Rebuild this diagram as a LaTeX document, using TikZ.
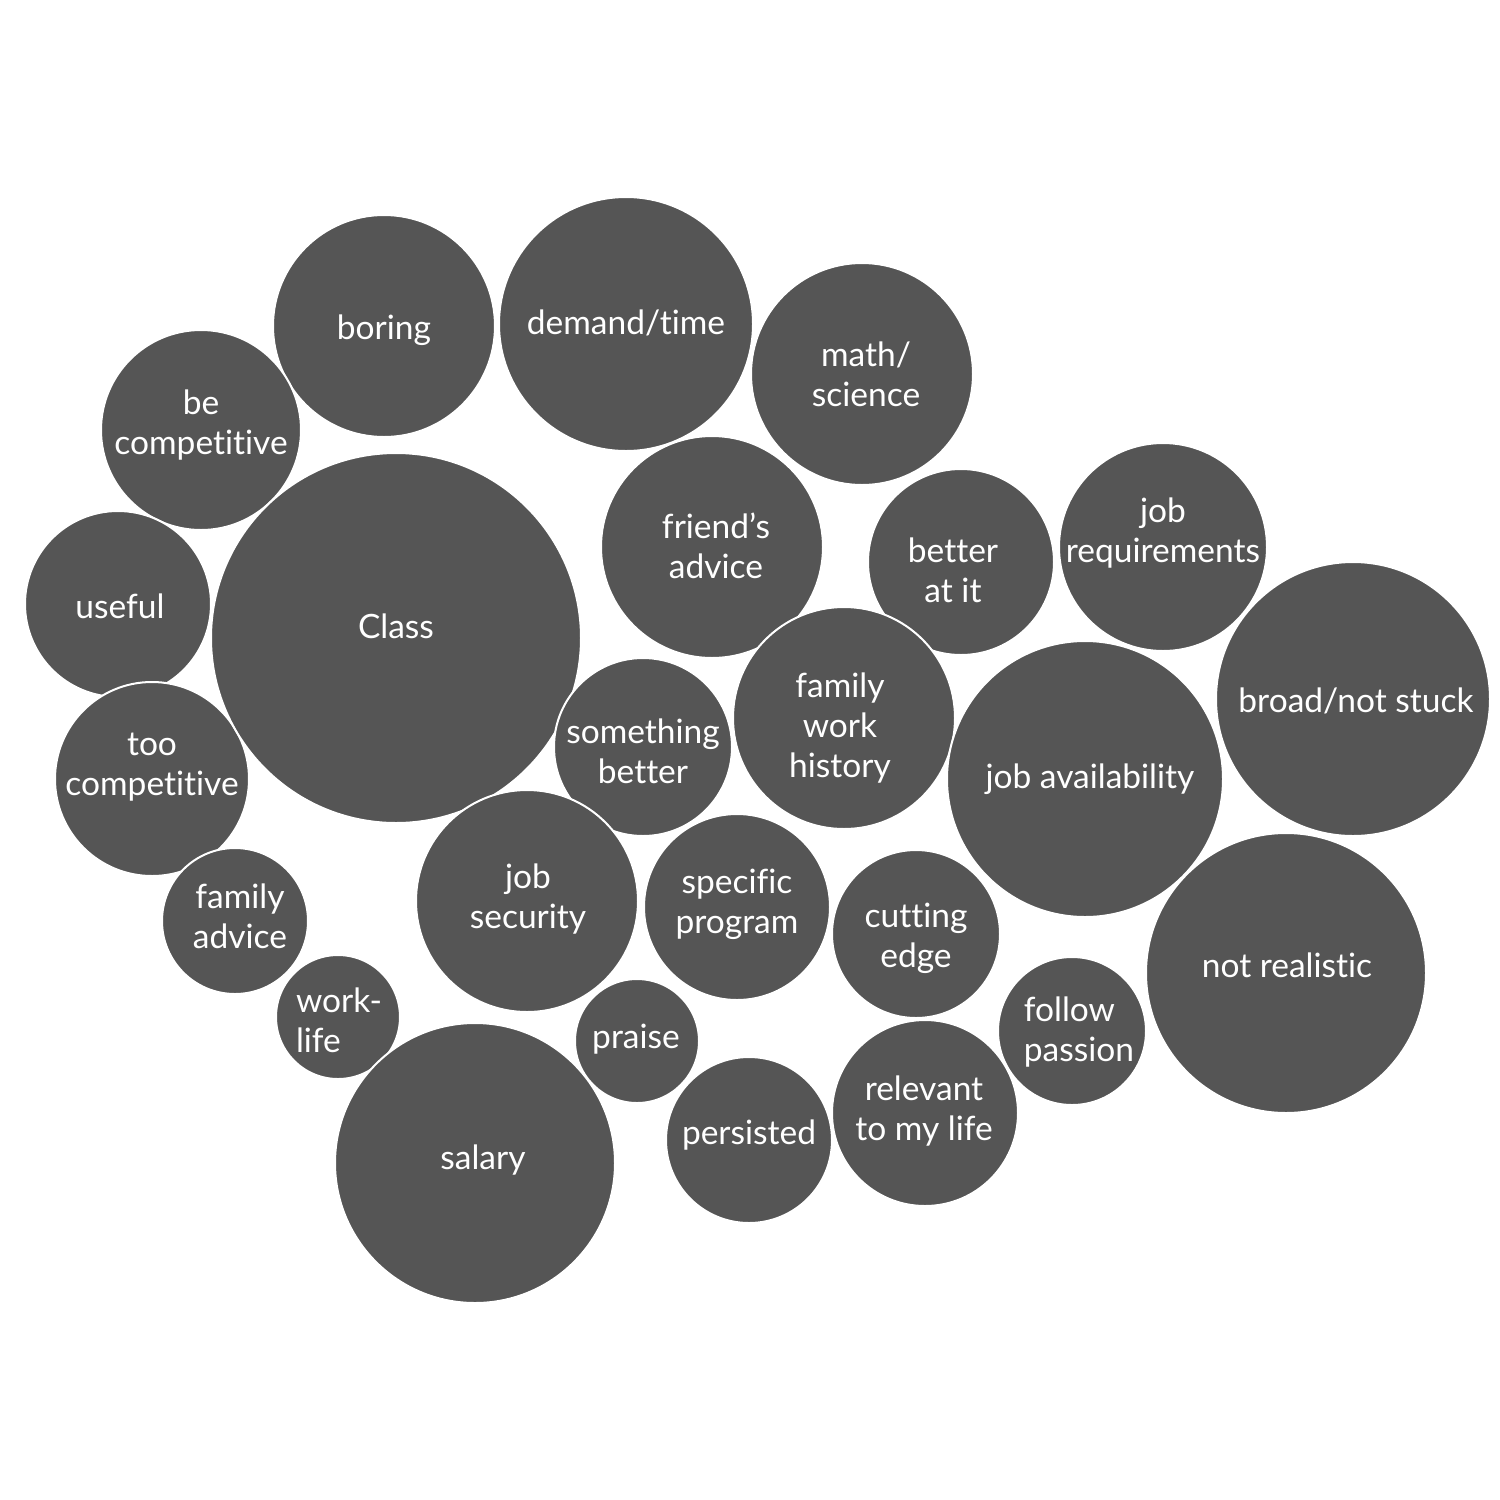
\documentclass[tikz,border=0pt]{standalone}
\usepackage{fontspec}
\setmainfont{Lato}[Ligatures={NoCommon}]
\definecolor{bub}{HTML}{555555}
\begin{document}
\begin{tikzpicture}[x=1pt,y=-1pt,
  bubble/.style={circle,fill=bub,draw=white,line width=2pt,inner sep=0pt,minimum size=#1},
  lbl/.style={text=white,align=center,font=\fontsize{33.5}{40}\selectfont,inner sep=0pt}]
\useasboundingbox (0,0) rectangle (1500,1500);
\fill[white] (0,0) rectangle (1500,1500);
% circles: center, diameter
\node[bubble=222pt] (boring) at (384,326) {};
\node[bubble=254pt] (demand) at (626,324) {};
\node[bubble=222pt] (math) at (862,374) {};
\node[bubble=200pt] (becomp) at (201,430) {};
\node[bubble=186pt] (useful) at (118,604) {};
\node[bubble=194pt] (toocomp) at (152,779) {};
\node[bubble=370pt] (class) at (396,638) {};
\node[bubble=222pt] (friend) at (712,547) {};
\node[bubble=186pt] (better) at (961,562) {};
\node[bubble=208pt] (jobreq) at (1163,547) {};
\node[bubble=274pt] (broad) at (1353,699) {};
\node[bubble=178pt] (something) at (643,747) {};
\node[bubble=222pt] (family) at (844,718) {};
\node[bubble=276pt] (jobavail) at (1085,779) {};
\node[bubble=222pt] (jobsec) at (527,901) {};
\node[bubble=186pt] (specific) at (737,907) {};
\node[bubble=168pt] (cutting) at (916,934) {};
\node[bubble=280pt] (notreal) at (1286,973) {};
\node[bubble=146pt] (famadv) at (235,921) {};
\node[bubble=124pt] (worklife) at (338,1017) {};
\node[bubble=124pt] (praise) at (637,1041) {};
\node[bubble=148pt] (follow) at (1072,1031) {};
\node[bubble=280pt] (salary) at (475,1163) {};
\node[bubble=166pt] (persisted) at (749,1140) {};
\node[bubble=186pt] (relevant) at (925,1113) {};
% labels
\node[lbl] (tboring) at (384,330) {boring};
\node[lbl] (tdemand) at (626,323) {demand/time};
\node[lbl] (tmath) at (866,374) {math/\\science};
\node[lbl] (tbecomp) at (201,425) {be\\competitive};
\node[lbl] (tuseful) at (120,606) {useful};
\node[lbl] (ttoocomp) at (152,767) {too\\competitive};
\node[lbl] (tclass) at (396,626) {Class};
\node[lbl] (tfriend) at (716,546) {friend’s\\advice};
\node[lbl] (tbetter) at (953,570) {better\\at it};
\node[lbl] (tjobreq) at (1163,533) {job\\requirements};
\node[lbl] (tbroad) at (1356,701) {broad/not stuck};
\node[lbl] (tsomething) at (643,751) {something\\better};
\node[lbl] (tfamily) at (840,728) {family\\work\\history};
\node[lbl] (tjobavail) at (1090,779) {job availability};
\node[lbl] (tjobsec) at (528,899) {job\\security};
\node[lbl] (tspecific) at (737,904) {specific\\program};
\node[lbl] (tcutting) at (916,938) {cutting\\edge};
\node[lbl] (tnotreal) at (1287,965) {not realistic};
\node[lbl] (tfamadv) at (240,916) {family\\advice};
\node[lbl,align=left] (tworklife) at (339,1020) {work-\\life};
\node[lbl] (tpraise) at (636,1039) {praise};
\node[lbl,align=left] (tfollow) at (1079,1032) {follow\\passion};
\node[lbl] (tsalary) at (483,1160) {salary};
\node[lbl] (tpersisted) at (749,1135) {persisted};
\node[lbl] (trelevant) at (924,1111) {relevant\\to my life};
\end{tikzpicture}
\end{document}
